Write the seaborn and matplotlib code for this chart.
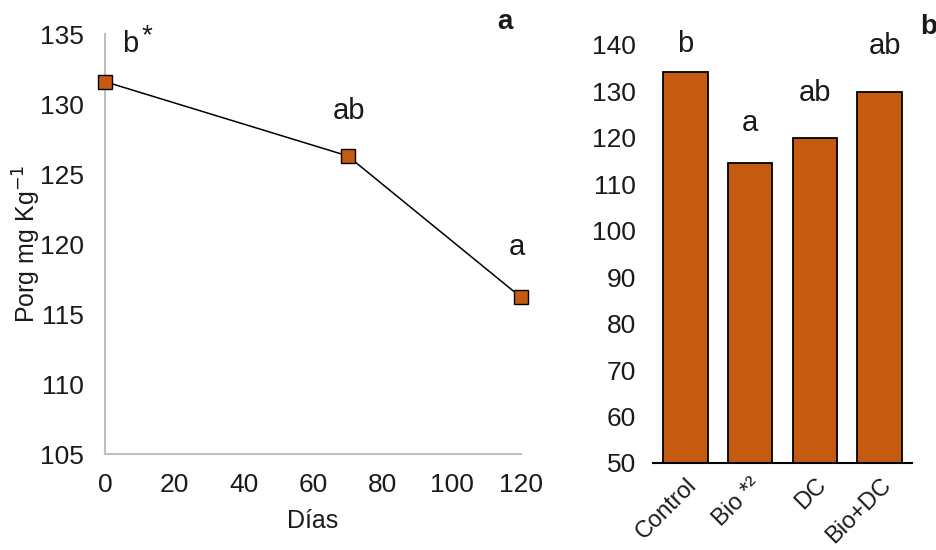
import matplotlib
matplotlib.use("Agg")
import matplotlib.pyplot as plt
import seaborn as sns
import pandas as pd

# ---- data ----
dias = [0, 70, 120]
porg_dias = [131.6, 126.3, 116.2]
letras_dias = ["b", "ab", "a"]

tratamientos = ["Control", "Bio", "DC", "Bio+DC"]
tick_labels = ["Control", "Bio *²", "DC", "Bio+DC"]
porg_trat = [134.2, 114.6, 120.0, 129.9]
letras_trat = ["b", "a", "ab", "ab"]

ORANGE = "#C55A11"
TXT = "#1a1a1a"

sns.set_theme(style="white")
plt.rcParams["font.family"] = ["Liberation Sans", "DejaVu Sans"]

fig = plt.figure(figsize=(9.36, 5.5), dpi=100)
ax1 = fig.add_axes([0.1122, 0.1745, 0.4444, 0.7635])
ax2 = fig.add_axes([0.6976, 0.1582, 0.2768, 0.7600])

# ---- panel a: line ----
df1 = pd.DataFrame({"Dias": dias, "Porg": porg_dias})
sns.lineplot(data=df1, x="Dias", y="Porg", ax=ax1, color="black", linewidth=1.1,
             marker="s", markersize=9.5, markerfacecolor=ORANGE,
             markeredgecolor="black", markeredgewidth=1.0, clip_on=False, zorder=3)
ax1.set_xlim(0, 120)
ax1.set_ylim(105, 135)
ax1.set_xticks([0, 20, 40, 60, 80, 100, 120])
ax1.set_yticks([105, 110, 115, 120, 125, 130, 135])
ax1.tick_params(axis="both", length=0, labelsize=19, colors=TXT)
ax1.tick_params(axis="y", pad=15)
ax1.tick_params(axis="x", pad=14)
for s in ["top", "right"]:
    ax1.spines[s].set_visible(False)
for s in ["left", "bottom"]:
    ax1.spines[s].set_color("#BFBFBF")
    ax1.spines[s].set_linewidth(1.5)
ax1.set_xlabel("Días", fontsize=18, labelpad=8, color=TXT)
ax1.set_ylabel("Porg mg Kg$^{-1}$", fontsize=18, labelpad=-2, color=TXT)

offs1 = [(18, 27), (1, 32), (-3, 36)]
for x, y, t, (dx, dy) in zip(dias, porg_dias, letras_dias, offs1):
    ax1.annotate(t, (x, y), xytext=(dx, dy), textcoords="offset points",
                 ha="center", va="center", fontsize=21, color=TXT)
ax1.annotate("*", (dias[0], porg_dias[0]), xytext=(30, 33), textcoords="offset points",
             ha="center", va="center", fontsize=20, color=TXT)

# ---- panel b: bars ----
df2 = pd.DataFrame({"Trat": tratamientos, "Porg": porg_trat})
sns.barplot(data=df2, x="Trat", y="Porg", ax=ax2, color=ORANGE, width=0.69,
            edgecolor="black", linewidth=1.3, saturation=1)
ax2.set_xlim(-0.5, 3.5)
ax2.set_ylim(50, 140)
ax2.set_yticks(range(50, 141, 10))
ax2.tick_params(axis="both", length=0, labelsize=19, colors=TXT)
ax2.tick_params(axis="y", pad=12)
ax2.set_xticks(range(len(tick_labels)))
ax2.set_xticklabels(tick_labels, rotation=45, ha="right", rotation_mode="anchor")
ax2.tick_params(axis="x", pad=8, labelsize=17)
for s in ["top", "right", "left"]:
    ax2.spines[s].set_visible(False)
ax2.spines["bottom"].set_color("black")
ax2.spines["bottom"].set_linewidth(1.5)
ax2.set_xlabel("")
ax2.set_ylabel("")

offs2 = [(0, 20), (0, 29), (0, 32), (4, 33)]
for i, (v, t, (dx, dy)) in enumerate(zip(porg_trat, letras_trat, offs2)):
    ax2.annotate(t, (i, v), xytext=(dx, dy), textcoords="offset points",
                 ha="center", va="center", fontsize=21, color=TXT,
                 annotation_clip=False)

fig.text(505 / 936, 1 - 22 / 550, "a", fontsize=20, fontweight="bold",
         ha="center", va="center", color=TXT)
fig.text(929 / 936, 1 - 27 / 550, "b", fontsize=20, fontweight="bold",
         ha="center", va="center", color=TXT)

fig.savefig("out.png", dpi=100)
